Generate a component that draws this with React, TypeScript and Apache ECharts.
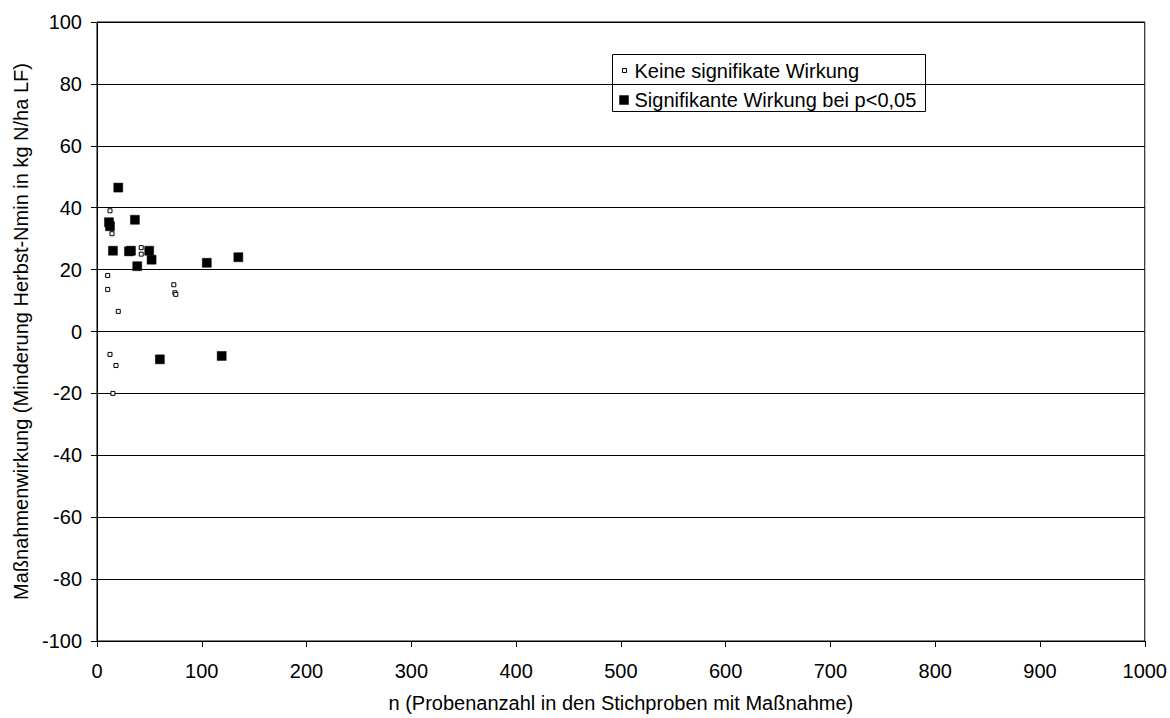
import React, { useEffect, useRef } from "react";
import * as echarts from "echarts";

const xTicks = [0, 100, 200, 300, 400, 500, 600, 700, 800, 900, 1000];
const yTicks = [-100, -80, -60, -40, -20, 0, 20, 40, 60, 80, 100];

const seriesNames = ["Keine signifikate Wirkung", "Signifikante Wirkung bei p<0,05"];

// Keine signifikante Wirkung: [n, Wirkung]
const notSignificant: [number, number][] = [
  [12.4, 39.0],
  [14.3, 31.6],
  [42.2, 27.1],
  [42.2, 25.0],
  [10.2, 18.1],
  [10.2, 13.6],
  [20.3, 6.5],
  [73.3, 15.1],
  [74.3, 12.5],
  [75.2, 12.0],
  [12.4, -7.4],
  [18.1, -11.0],
  [15.2, -20.0],
];

// Signifikante Wirkung bei p<0,05: [n, Wirkung]
const significant: [number, number][] = [
  [20.3, 46.5],
  [36.2, 36.1],
  [11.4, 35.3],
  [12.4, 34.0],
  [15.2, 26.1],
  [30.5, 25.9],
  [32.4, 26.1],
  [49.8, 26.1],
  [52.1, 23.2],
  [38.4, 21.1],
  [104.8, 22.2],
  [134.9, 24.0],
  [60.0, -9.0],
  [119.0, -7.9],
];

const FONT = "'Liberation Sans', Arial, sans-serif";
const FS = 20;

export default function App() {
  const ref = useRef<HTMLDivElement>(null);
  useEffect(() => {
    if (!ref.current) return;
    const chart = echarts.init(ref.current, undefined, { renderer: "svg" });
    chart.setOption({
      animation: false,
      backgroundColor: "#fff",
      textStyle: { fontFamily: FONT },
      grid: {
        left: 97,
        right: 25,
        top: 22,
        bottom: 74,
        show: true,
        borderColor: "#000",
        borderWidth: 1,
        backgroundColor: "transparent",
      },
      xAxis: {
        type: "value",
        min: xTicks[0],
        max: xTicks[xTicks.length - 1],
        interval: 100,
        name: "n (Probenanzahl in den Stichproben mit Maßnahme)",
        nameLocation: "middle",
        nameGap: 52,
        nameTextStyle: { fontSize: FS, color: "#000", fontFamily: FONT },
        axisLine: { show: true, onZero: false, lineStyle: { color: "#000", width: 1 } },
        axisTick: { show: true, inside: false, length: 6, lineStyle: { color: "#000" } },
        axisLabel: {
          fontSize: FS,
          color: "#000",
          margin: 20,
          fontFamily: FONT,
          formatter: (v: number) => String(v),
        },
        splitLine: { show: false },
      },
      yAxis: {
        type: "value",
        min: yTicks[0],
        max: yTicks[yTicks.length - 1],
        interval: 20,
        name: "Maßnahmenwirkung (Minderung Herbst-Nmin in kg N/ha LF)",
        nameLocation: "middle",
        nameGap: 62,
        nameTextStyle: { fontSize: FS, color: "#000", fontFamily: FONT },
        axisLine: { show: true, onZero: false, lineStyle: { color: "#000", width: 1 } },
        axisTick: { show: true, inside: false, length: 6, lineStyle: { color: "#000" } },
        axisLabel: {
          fontSize: FS,
          color: "#000",
          margin: 15,
          fontFamily: FONT,
          formatter: (v: number) => String(v),
        },
        splitLine: { show: true, lineStyle: { color: "#000", width: 1 } },
      },
      series: [
        {
          name: seriesNames[0],
          type: "scatter",
          symbol: "rect",
          symbolSize: 4,
          data: notSignificant,
          itemStyle: { color: "#fff", borderColor: "#000", borderWidth: 1, opacity: 1 },
          z: 3,
        },
        {
          name: seriesNames[1],
          type: "scatter",
          symbol: "rect",
          symbolSize: 9,
          data: significant,
          itemStyle: { color: "#000", borderColor: "#000", borderWidth: 0.5, opacity: 1 },
          z: 4,
        },
      ],
      graphic: [
        {
          type: "group",
          left: 612,
          top: 54,
          children: [
            {
              type: "rect",
              shape: { x: 0, y: 0, width: 313, height: 57 },
              style: { fill: "#fff", stroke: "#000", lineWidth: 1 },
            },
            {
              type: "rect",
              shape: { x: 10, y: 14, width: 4, height: 4 },
              style: { fill: "#fff", stroke: "#000", lineWidth: 1 },
            },
            {
              type: "text",
              x: 22,
              y: 16,
              style: {
                text: seriesNames[0],
                fontSize: FS,
                fontFamily: FONT,
                fill: "#000",
                verticalAlign: "middle",
              },
            },
            {
              type: "rect",
              shape: { x: 7, y: 41, width: 9, height: 9 },
              style: { fill: "#000", stroke: "#000", lineWidth: 0.5 },
            },
            {
              type: "text",
              x: 22,
              y: 45,
              style: {
                text: seriesNames[1],
                fontSize: FS,
                fontFamily: FONT,
                fill: "#000",
                verticalAlign: "middle",
              },
            },
          ],
        },
      ],
    });
    return () => chart.dispose();
  }, []);
  return <div ref={ref} style={{ width: 1170, height: 718, position: "absolute", left: 0, top: 0 }} />;
}
